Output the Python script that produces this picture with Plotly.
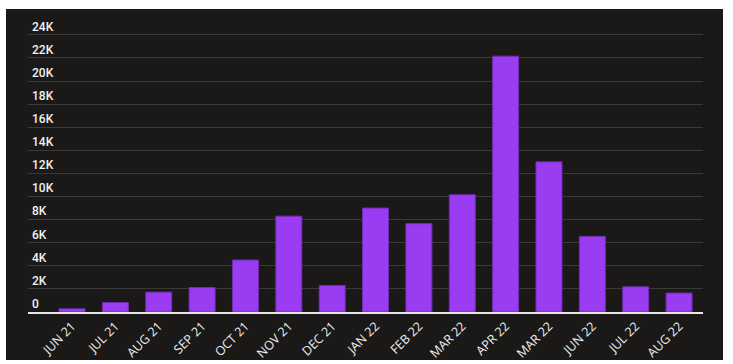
import plotly.graph_objects as go

categories = ["JUN 21", "JUL 21", "AUG 21", "SEP 21", "OCT 21", "NOV 21", "DEC 21",
              "JAN 22", "FEB 22", "MAR 22", "APR 22", "MAR 22", "JUN 22", "JUL 22", "AUG 22"]
values = [280, 820, 1720, 2120, 4500, 8300, 2300, 9000, 7650, 10150, 22150, 13000, 6550, 2180, 1640]
y_tickvals = list(range(0, 24001, 2000))
y_ticktext = ["0"] + [f"{v // 1000}K" for v in y_tickvals[1:]]

positions = list(range(len(categories)))

W, H = 733, 364
ml, mr, mt, mb = 28, 30, 10, 52
pw, ph = W - ml - mr, H - mt - mb
ymax = 24000 * ph / 277.2

BG = "#1a1918"

fig = go.Figure()
fig.add_trace(go.Bar(
    x=positions, y=values, width=0.6,
    marker=dict(color="#9a3cf2", line=dict(color="#6f2db0", width=1)),
    hoverinfo="skip",
))

fig.update_layout(
    width=W, height=H,
    margin=dict(l=ml, r=mr, t=mt, b=mb, pad=0),
    paper_bgcolor="white",
    plot_bgcolor=BG,
    showlegend=False,
    bargap=0.4,
    shapes=[dict(
        type="rect", xref="paper", yref="paper", layer="below",
        x0=(6 - ml) / pw, x1=(723 - ml) / pw,
        y0=-(360 - (mt + ph)) / ph, y1=1 + (mt - 9) / ph,
        fillcolor=BG, line=dict(width=0),
    )],
    xaxis=dict(
        range=[-1.015, 14.552], automargin=False,
        tickmode="array", tickvals=positions, ticktext=categories,
        tickangle=-45, showgrid=False, zeroline=False,
        showline=True, linecolor="#e8e8e8", linewidth=2,
        ticks="", tickfont=dict(family="Open Sans", size=12.5, color="#f0f0f0"),
        fixedrange=True,
    ),
    yaxis=dict(
        range=[0, ymax], automargin=False,
        tickmode="array", tickvals=y_tickvals, ticktext=y_ticktext,
        showgrid=True, gridcolor="#3a3a3a", gridwidth=1,
        zeroline=False, showline=False, ticks="",
        ticklabelposition="inside top", ticklabelstandoff=1,
        tickfont=dict(family="Roboto", size=12, color="#f2f2f2", weight=500),
        fixedrange=True,
    ),
)

fig.write_html("out.html")
